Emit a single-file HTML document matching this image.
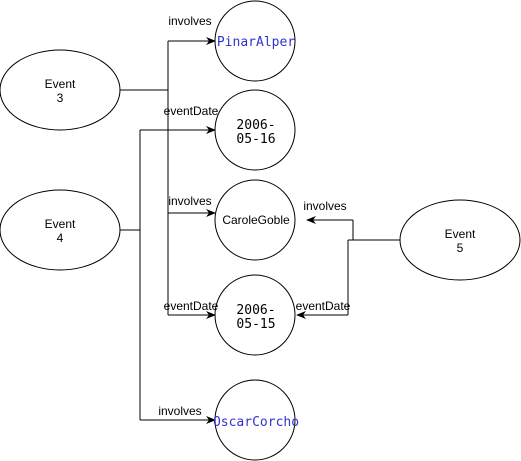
<!DOCTYPE html>
<html><head><style>body{margin:0;background:#fff}svg{display:block}</style></head><body>
<svg width="521" height="461" xmlns="http://www.w3.org/2000/svg" font-family="Liberation Sans, sans-serif" font-size="12">
<defs><marker id="a" markerWidth="10" markerHeight="8" refX="9" refY="4" orient="auto" markerUnits="userSpaceOnUse"><path d="M0,0 L10,4 L0,8 L3,4 Z" fill="#000"/></marker></defs>
<g fill="#fff" stroke="#000" stroke-width="1">
<ellipse cx="60" cy="90" rx="60" ry="40"/>
<ellipse cx="60" cy="230" rx="60" ry="40"/>
<ellipse cx="460" cy="240" rx="60" ry="40"/>
<circle cx="255" cy="41" r="40"/>
<circle cx="255" cy="130" r="40"/>
<circle cx="255" cy="220" r="40"/>
<circle cx="255" cy="315" r="40"/>
<circle cx="255" cy="420" r="40"/>
</g>
<g fill="none" stroke="#000" stroke-width="1">
<path d="M120,90 H168 M168,41 V315"/>
<path d="M168,41 H215" marker-end="url(#a)"/>
<path d="M168,213 H215" marker-end="url(#a)"/>
<path d="M168,315 H215" marker-end="url(#a)"/>
<path d="M120,230 H140 M140,130 V420"/>
<path d="M140,130 H215" marker-end="url(#a)"/>
<path d="M140,420 H215" marker-end="url(#a)"/>
<path d="M400,240 H348 M353,240 V220 M348,240 V315"/>
<path d="M353,220 H307" marker-end="url(#a)"/>
<path d="M348,315 H297" marker-end="url(#a)"/>
</g>
<g text-anchor="middle" fill="#000">
<text x="60" y="88">Event</text><text x="60" y="102">3</text>
<text x="60" y="228">Event</text><text x="60" y="242">4</text>
<text x="460" y="238">Event</text><text x="460" y="252">5</text>
<text x="190" y="25">involves</text>
<text x="191" y="115">eventDate</text>
<text x="190" y="205">involves</text>
<text x="191" y="310">eventDate</text>
<text x="180" y="415">involves</text>
<text x="325" y="210">involves</text>
<text x="323" y="310">eventDate</text>
<text x="256" y="224">CaroleGoble</text>
</g>
<g text-anchor="middle" font-family="DejaVu Sans Mono, Liberation Mono, monospace" font-size="13">
<text x="256" y="46" fill="#3333cc">PinarAlper</text>
<text x="256" y="129" fill="#000">2006-</text><text x="256" y="143" fill="#000">05-16</text>
<text x="256" y="314" fill="#000">2006-</text><text x="256" y="328" fill="#000">05-15</text>
<text x="256" y="426" fill="#3333cc">OscarCorcho</text>
</g>
</svg>
</body></html>
